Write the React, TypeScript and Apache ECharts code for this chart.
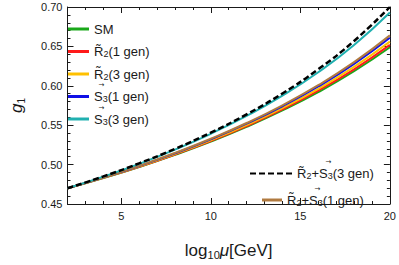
import React, { useEffect, useRef } from "react";
import * as echarts from "echarts";

const xValues = [2, 4, 6, 8, 10, 12, 14, 16, 18, 20];
const smValues = [0.47, 0.4829, 0.497, 0.5124, 0.5292, 0.5479, 0.5687, 0.592, 0.6185, 0.6489];
const r2OneGen = [0.47, 0.4831, 0.4973, 0.5129, 0.53, 0.5489, 0.5701, 0.5939, 0.6209, 0.652];
const r2ThreeGen = [0.47, 0.4832, 0.4977, 0.5135, 0.5309, 0.5502, 0.5718, 0.5962, 0.624, 0.656];
const s3OneGen = [0.47, 0.4835, 0.4982, 0.5143, 0.5321, 0.5519, 0.574, 0.5991, 0.6278, 0.661];
const s3ThreeGen = [0.47, 0.4848, 0.501, 0.519, 0.5391, 0.5618, 0.5875, 0.6172, 0.6518, 0.693];
const r2s3OneGen = [0.47, 0.4836, 0.4984, 0.5148, 0.5328, 0.5528, 0.5753, 0.6008, 0.63, 0.664];
const r2s3ThreeGen = [0.47, 0.485, 0.5016, 0.52, 0.5406, 0.5638, 0.5903, 0.621, 0.6569, 0.7];

const xMajorTicks = [5, 10, 15, 20];

const FONT = "'Liberation Sans', Arial, Helvetica, sans-serif";
const INK = "#1a1a1a";

const pairs = (ys: number[]) => xValues.map((x, i) => [x, ys[i]]);

const legendLabels: Record<string, string> = {
  SM: "SM",
  R2_1: "R\u0303{s|2}(1 gen)",
  R2_3: "R\u0303{s|2}(3 gen)",
  S3_1: "S{s|3}(1 gen)",
  S3_3: "S{s|3}(3 gen)",
  RS_3: "R\u0303{s|2}+S{s|3}(3 gen)",
  RS_1: "R\u0303{s|2}+S{s|3}(1 gen)",
};

const MAIN_SIZE = 13;
const SUB_SIZE = 9;
const LINE_H = 14;

const legendText = {
  fontFamily: FONT,
  fontSize: MAIN_SIZE,
  lineHeight: LINE_H,
  color: INK,
  rich: {
    s: { fontFamily: FONT, fontSize: SUB_SIZE, lineHeight: 5, color: INK, verticalAlign: "bottom" },
  },
};

const DASH_ICON = "path://M0,0h6v2h-6z M9,0h6v2h-6z M18,0h6v2h-6z M27,0h6v2h-6z M36,0h6v2h-6z";

const TOP_LEG = { left: 68, top: 22, itemWidth: 21, textGap: 8, gap: 8.5 };
const BLACK_LEG = { left: 250, top: 166.5, itemWidth: 42, textGap: 10 };
const BROWN_LEG = { left: 262, top: 193, itemWidth: 20, textGap: 9 };

function measure(text: string, size: number): number {
  const ctx = document.createElement("canvas").getContext("2d");
  if (!ctx) return text.length * size * 0.6;
  ctx.font = `${size}px ${FONT}`;
  return ctx.measureText(text).width;
}

export default function App() {
  const ref = useRef<HTMLDivElement>(null);
  useEffect(() => {
    if (!ref.current) return;
    const chart = echarts.init(ref.current, undefined, { renderer: "svg" });
    const axisLine = { show: true, lineStyle: { color: INK, width: 1 } };
    const tickStyle = { color: INK, width: 1 };
    const mk = (name: string, data: number[], color: string, width = 2, type: any = "solid") => ({
      type: "line",
      name,
      data: pairs(data),
      smooth: true,
      showSymbol: false,
      symbol: "none",
      lineStyle: { color, width, type },
      itemStyle: { color },
      z: 3,
    });

    // positions of the vector arrows over the letter S in legend labels
    const sHalf = measure("S", MAIN_SIZE) / 2;
    const rsPrefix = measure("R\u0303", MAIN_SIZE) + measure("2", SUB_SIZE) + measure("+", MAIN_SIZE);
    const topStart = TOP_LEG.left + TOP_LEG.itemWidth + TOP_LEG.textGap;
    const rowPitch = LINE_H + TOP_LEG.gap;
    const arrowMarks = [
      [topStart + sHalf, TOP_LEG.top + LINE_H / 2 + 3 * rowPitch - 11.5],
      [topStart + sHalf, TOP_LEG.top + LINE_H / 2 + 4 * rowPitch - 11.5],
      [BLACK_LEG.left + BLACK_LEG.itemWidth + BLACK_LEG.textGap + rsPrefix + sHalf, BLACK_LEG.top + LINE_H / 2 - 11.5],
      [BROWN_LEG.left + BROWN_LEG.itemWidth + BROWN_LEG.textGap + rsPrefix + sHalf, BROWN_LEG.top + LINE_H / 2 - 11.5],
    ];

    chart.setOption({
      animation: false,
      grid: { left: 52, right: 7, top: 7, bottom: 48, containLabel: false },
      xAxis: [
        {
          type: "value", min: 2, max: 20, interval: 1, position: "bottom",
          axisLine, axisTick: { inside: true, length: 3, lineStyle: tickStyle },
          axisLabel: { show: false }, splitLine: { show: false },
        },
        {
          type: "value", min: 2, max: 20, position: "bottom",
          axisLine: { show: false },
          axisTick: { inside: true, length: 6, lineStyle: tickStyle, customValues: xMajorTicks },
          axisLabel: { customValues: xMajorTicks, fontFamily: FONT, fontSize: 11, color: INK, margin: 6 },
          splitLine: { show: false },
          name: "{a|log}{b|10}{c|μ}{a|[GeV]}",
          nameLocation: "middle",
          nameGap: 36,
          nameTextStyle: {
            rich: {
              a: { fontFamily: FONT, fontSize: 17, lineHeight: 20, color: INK },
              b: { fontFamily: FONT, fontSize: 11, lineHeight: 12, color: INK, verticalAlign: "bottom" },
              c: { fontFamily: FONT, fontSize: 17, lineHeight: 20, color: INK, fontStyle: "italic" },
            },
          },
        },
        {
          type: "value", min: 2, max: 20, interval: 1, position: "top",
          axisLine, axisTick: { inside: true, length: 3, lineStyle: tickStyle },
          axisLabel: { show: false }, splitLine: { show: false },
        },
        {
          type: "value", min: 2, max: 20, position: "top",
          axisLine: { show: false },
          axisTick: { inside: true, length: 6, lineStyle: tickStyle, customValues: xMajorTicks },
          axisLabel: { show: false }, splitLine: { show: false },
        },
      ],
      yAxis: [
        {
          type: "value", min: 0.45, max: 0.7, interval: 0.05, position: "left",
          axisLine, axisTick: { inside: true, length: 6, lineStyle: tickStyle },
          minorTick: { show: true, splitNumber: 5, length: 3, lineStyle: tickStyle },
          axisLabel: { fontFamily: FONT, fontSize: 11, color: INK, margin: 5, formatter: (v: number) => v.toFixed(2) },
          splitLine: { show: false },
          name: "{g|g}{s|1}",
          nameLocation: "middle",
          nameGap: 41,
          nameRotate: 90,
          nameTextStyle: {
            rich: {
              g: { fontFamily: FONT, fontSize: 17, lineHeight: 20, color: INK, fontStyle: "italic" },
              s: { fontFamily: FONT, fontSize: 10, lineHeight: 11, color: INK, verticalAlign: "bottom" },
            },
          },
        },
        {
          type: "value", min: 0.45, max: 0.7, interval: 0.05, position: "right",
          axisLine, axisTick: { inside: true, length: 6, lineStyle: tickStyle },
          minorTick: { show: true, splitNumber: 5, length: 3, lineStyle: tickStyle },
          axisLabel: { show: false }, splitLine: { show: false },
        },
      ],
      legend: [
        {
          data: ["SM", "R2_1", "R2_3", "S3_1", "S3_3"],
          orient: "vertical", left: TOP_LEG.left, top: TOP_LEG.top, padding: 0,
          icon: "rect", itemWidth: TOP_LEG.itemWidth, itemHeight: 3, itemGap: TOP_LEG.gap, itemTextGap: TOP_LEG.textGap,
          selectedMode: false,
          formatter: (n: string) => legendLabels[n],
          textStyle: legendText,
        },
        {
          data: [{ name: "RS_3", icon: DASH_ICON }],
          orient: "vertical", left: BLACK_LEG.left, top: BLACK_LEG.top, padding: 0,
          itemWidth: BLACK_LEG.itemWidth, itemHeight: 2.5, itemTextGap: BLACK_LEG.textGap,
          selectedMode: false,
          formatter: (n: string) => legendLabels[n],
          textStyle: legendText,
        },
        {
          data: ["RS_1"],
          orient: "vertical", left: BROWN_LEG.left, top: BROWN_LEG.top, padding: 0,
          icon: "rect", itemWidth: BROWN_LEG.itemWidth, itemHeight: 3, itemTextGap: BROWN_LEG.textGap,
          selectedMode: false,
          formatter: (n: string) => legendLabels[n],
          textStyle: legendText,
        },
      ],
      graphic: arrowMarks.map(([x, y]) => ({
        type: "text",
        x,
        y,
        z: 100,
        style: {
          text: "\u2192",
          fontFamily: "'DejaVu Sans', sans-serif",
          fontSize: 7,
          fill: INK,
          align: "center",
          verticalAlign: "middle",
        },
      })),
      series: [
        mk("SM", smValues, "#1aa81a"),
        mk("R2_1", r2OneGen, "#ff1a1a"),
        mk("R2_3", r2ThreeGen, "#ffc000"),
        mk("S3_1", s3OneGen, "#1010e6"),
        mk("RS_1", r2s3OneGen, "#b07a40"),
        mk("S3_3", s3ThreeGen, "#20b0b0"),
        mk("RS_3", r2s3ThreeGen, "#000000", 2.5, [6, 3]),
      ],
    });
    return () => chart.dispose();
  }, []);
  return <div ref={ref} style={{ width: 399, height: 265, position: "absolute", left: 0, top: 0 }} />;
}
